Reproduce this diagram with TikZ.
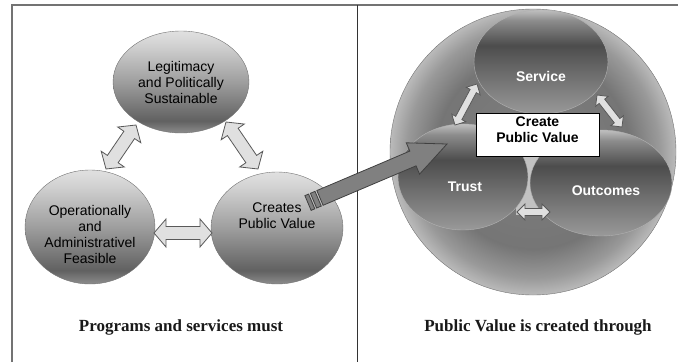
\documentclass[tikz,border=0pt]{standalone}
\usepackage{fontspec}
\setmainfont{Liberation Serif}
\setsansfont{Liberation Sans}
\usetikzlibrary{shapes.geometric,calc}

\pgfdeclareverticalshading{bubbleshade}{100bp}{color(0bp)=(black!45); color(25bp)=(black!45); color(31bp)=(black!62); color(50bp)=(black!38); color(68bp)=(black!18); color(75bp)=(black!12); color(100bp)=(black!12)}
\pgfdeclareverticalshading{lobeshade}{100bp}{color(0bp)=(black!40); color(25bp)=(black!40); color(45bp)=(black!58); color(58bp)=(black!70); color(70bp)=(black!45); color(75bp)=(black!25); color(100bp)=(black!25)}
\pgfdeclareradialshading{discshade}{\pgfpoint{0bp}{0bp}}{color(0bp)=(black!50); color(17bp)=(black!54); color(22bp)=(black!40); color(25bp)=(black!27); color(50bp)=(black!27)}

% block arrow with two heads: from, to, shaft half width, head half width, head length
\newcommand{\dblarrow}[5]{%
  \draw[dblarr] (#1) -- ($(#1)!#5!(#2)!#4!90:(#2)$) -- ($(#1)!#5!(#2)!#3!90:(#2)$)
    -- ($(#2)!#5!(#1)!#3!-90:(#1)$) -- ($(#2)!#5!(#1)!#4!-90:(#1)$) -- (#2)
    -- ($(#2)!#5!(#1)!#4!90:(#1)$) -- ($(#2)!#5!(#1)!#3!90:(#1)$)
    -- ($(#1)!#5!(#2)!#3!-90:(#2)$) -- ($(#1)!#5!(#2)!#4!-90:(#2)$) -- cycle;}

\begin{document}
\begin{tikzpicture}[x=1pt,y=-1pt,
    bubble/.style={ellipse,draw=black!55,thin,shade,shading=bubbleshade,inner sep=0pt},
    lobe/.style={ellipse,draw=black!30,thin,shade,shading=lobeshade,inner sep=0pt},
    btext/.style={align=center,font=\sffamily\fontsize{14}{16}\selectfont},
    ltext/.style={font=\sffamily\bfseries\fontsize{14}{16}\selectfont,text=white},
    captext/.style={font=\rmfamily\bfseries\fontsize{17}{20}\selectfont,text=black!90},
    frame/.style={draw=black!55,line width=1.2pt},
    dblarr/.style={draw=black!65,fill=black!12,line width=0.8pt},
    bigarr/.style={draw=black!75,fill=black!50,line width=0.8pt}]
  \useasboundingbox (0,0) rectangle (678,362);
  \draw[frame] (12,362) -- (12,5) -- (678,5);
  \draw[draw=black!80,line width=1pt] (357,5) -- (357,362);

  % programs and services
  \node[bubble,minimum width=136pt,minimum height=102pt] (legit) at (181,82) {};
  \node[btext] (legitt) at (legit) {Legitimacy\\and Politically\\Sustainable};
  \node[bubble,minimum width=130pt,minimum height=114pt] (oper) at (90,227) {};
  \node[btext] (opert) at ([yshift=-7pt]oper) {Operationally\\and\\Administrativel\\Feasible};
  \node[bubble,minimum width=132pt,minimum height=112pt] (creates) at (277,228) {};
  \node[btext] (createst) at ([yshift=12pt]creates) {Creates\\Public Value};
  \coordinate (ol) at (106,169);
  \coordinate (lo) at (136,125);
  \coordinate (lc) at (226,122);
  \coordinate (cl) at (258,169);
  \coordinate (oc) at (154,233);
  \coordinate (co) at (212,233);
  \dblarrow{ol}{lo}{6.5pt}{14pt}{12pt}
  \dblarrow{lc}{cl}{6.5pt}{14pt}{12pt}
  \dblarrow{oc}{co}{6.5pt}{14pt}{12pt}

  % public value
  \node[circle,draw=black!55,shade,shading=discshade,minimum size=286pt,inner sep=0pt] (disc) at (533,152) {};
  \fill[black!24] (516,150) rectangle (550,215);
  \node[lobe,minimum width=130pt,minimum height=106pt] (trust) at (463,177) {};
  \node[lobe,minimum width=142pt,minimum height=106pt] (outc) at (601,183) {};
  \node[lobe,minimum width=134pt,minimum height=104pt] (serv) at (541,62) {};
  \node[ltext] (trustt) at ([xshift=2pt,yshift=-10pt]trust) {Trust};
  \node[ltext] (outct) at ([xshift=5pt,yshift=-8pt]outc) {Outcomes};
  \node[ltext] (servt) at ([yshift=-14pt]serv) {Service};
  \node[draw,fill=white,line width=1pt,minimum width=123pt,minimum height=43pt,inner sep=0pt,text depth=10pt,
    align=center,font=\sffamily\bfseries\fontsize{14}{16}\selectfont] (cpv) at (537.5,134.5) {Create\\Public Value};
  \coordinate (ts) at (455,125);
  \coordinate (st) at (477,84);
  \coordinate (so) at (597,95);
  \coordinate (os) at (622,127);
  \coordinate (to) at (517,212);
  \coordinate (ot) at (550,212);
  \dblarrow{ts}{st}{3.5pt}{8pt}{8pt}
  \dblarrow{so}{os}{3.5pt}{8pt}{8pt}
  \dblarrow{to}{ot}{3.5pt}{8pt}{8pt}

  \node[captext] (capl) at (181,327) {Programs and services must};
  \node[captext] (capr) at (538,327) {Public Value is created through};

  % striped arrow into the circle
  \coordinate (tail) at (308,203);
  \coordinate (tip) at (447,144);
  \draw[bigarr] ($(tail)!0pt!(tip)!8pt!90:(tip)$) -- ($(tail)!4pt!(tip)!8pt!90:(tip)$)
    -- ($(tail)!4pt!(tip)!8pt!-90:(tip)$) -- ($(tail)!0pt!(tip)!8pt!-90:(tip)$) -- cycle;
  \draw[bigarr] ($(tail)!6pt!(tip)!8pt!90:(tip)$) -- ($(tail)!11pt!(tip)!8pt!90:(tip)$)
    -- ($(tail)!11pt!(tip)!8pt!-90:(tip)$) -- ($(tail)!6pt!(tip)!8pt!-90:(tip)$) -- cycle;
  \draw[bigarr] ($(tail)!13pt!(tip)!8pt!90:(tip)$) -- ($(tip)!37pt!(tail)!8pt!-90:(tail)$)
    -- ($(tip)!37pt!(tail)!17pt!-90:(tail)$) -- (tip) -- ($(tip)!37pt!(tail)!17pt!90:(tail)$)
    -- ($(tip)!37pt!(tail)!8pt!90:(tail)$) -- ($(tail)!13pt!(tip)!8pt!-90:(tip)$) -- cycle;
\end{tikzpicture}
\end{document}
